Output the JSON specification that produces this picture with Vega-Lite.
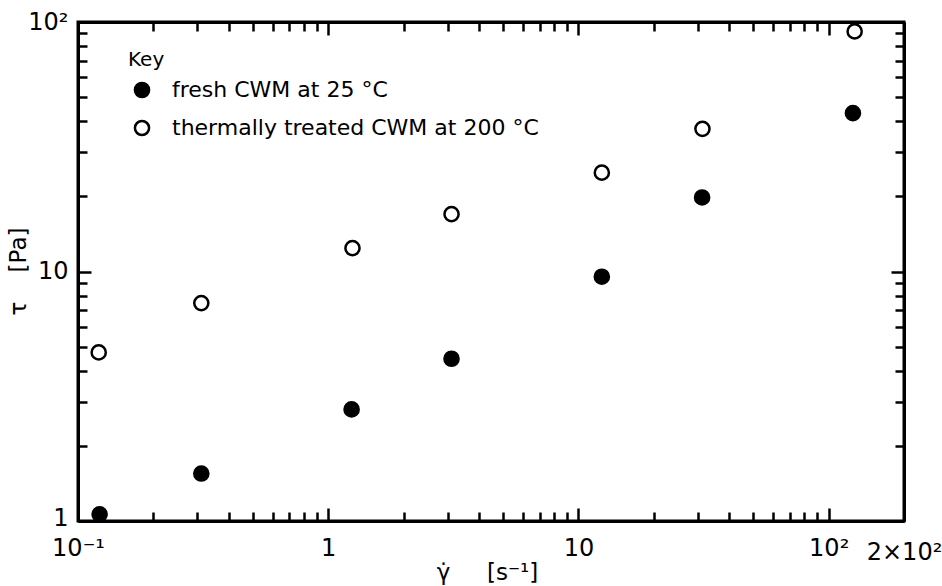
{
  "$schema": "https://vega.github.io/schema/vega-lite/v6.json",
  "width": 826,
  "height": 499,
  "autosize": {"type": "none"},
  "padding": {"left": 78, "top": 22, "right": 38, "bottom": 65},
  "background": "white",
  "config": {
    "font": "DejaVu Sans",
    "view": {"stroke": "black", "strokeWidth": 3},
    "axis": {
      "domainColor": "black", "domainWidth": 3,
      "tickColor": "black", "tickWidth": 2.5,
      "labelColor": "black", "labelFontSize": 24, "labelFont": "DejaVu Sans",
      "titleColor": "black", "titleFontSize": 23, "titleFontWeight": "normal",
      "grid": false, "labelOverlap": false, "labelFlush": false, "labelBound": false
    }
  },
  "data": {
    "values": [
      {"series": "fresh CWM at 25 °C", "rate": 0.122, "tau": 1.064},
      {"series": "fresh CWM at 25 °C", "rate": 0.311, "tau": 1.55},
      {"series": "fresh CWM at 25 °C", "rate": 1.24, "tau": 2.80},
      {"series": "fresh CWM at 25 °C", "rate": 3.11, "tau": 4.47},
      {"series": "fresh CWM at 25 °C", "rate": 12.4, "tau": 9.53},
      {"series": "fresh CWM at 25 °C", "rate": 31.2, "tau": 19.8},
      {"series": "fresh CWM at 25 °C", "rate": 125, "tau": 43.1},
      {"series": "thermally treated CWM at 200 °C", "rate": 0.121, "tau": 4.74},
      {"series": "thermally treated CWM at 200 °C", "rate": 0.311, "tau": 7.47},
      {"series": "thermally treated CWM at 200 °C", "rate": 1.25, "tau": 12.4},
      {"series": "thermally treated CWM at 200 °C", "rate": 3.11, "tau": 16.97},
      {"series": "thermally treated CWM at 200 °C", "rate": 12.4, "tau": 24.9},
      {"series": "thermally treated CWM at 200 °C", "rate": 31.3, "tau": 37.3},
      {"series": "thermally treated CWM at 200 °C", "rate": 127, "tau": 91.7}
    ]
  },
  "layer": [
    {
      "mark": {"type": "point", "stroke": "black", "strokeWidth": 2.5, "size": 200, "opacity": 1},
      "encoding": {
        "x": {
          "field": "rate", "type": "quantitative",
          "scale": {"type": "log", "domain": [0.1, 200], "nice": false},
          "axis": {
            "orient": "bottom",
            "values": [0.1,0.2,0.3,0.4,0.5,0.6,0.7,0.8,0.9,1,2,3,4,5,6,7,8,9,10,20,30,40,50,60,70,80,90,100,200],
            "labelExpr": "datum.value == 0.1 ? '10⁻¹' : datum.value == 1 ? '1' : datum.value == 10 ? '10' : datum.value == 100 ? '10²' : datum.value == 200 ? '2×10²' : ''",
            "tickSize": {"condition": {"test": "indexof([0.1,1,10,100], datum.value) >= 0", "value": -13}, "value": -9},
            "labelPadding": 28,
            "title": "γ̇\u00a0\u00a0\u00a0\u00a0\u00a0[s⁻¹]",
            "titleX": 409, "titleY": 58, "titleBaseline": "alphabetic", "titleAlign": "center"
          }
        },
        "y": {
          "field": "tau", "type": "quantitative",
          "scale": {"type": "log", "domain": [1, 100], "nice": false},
          "axis": {
            "orient": "left",
            "values": [1,2,3,4,5,6,7,8,9,10,20,30,40,50,60,70,80,90,100],
            "labelExpr": "datum.value == 1 ? '1' : datum.value == 10 ? '10' : datum.value == 100 ? '10²' : ''",
            "tickSize": {"condition": {"test": "indexof([1,10,100], datum.value) >= 0", "value": -13}, "value": -9},
            "labelPadding": 23,
            "labelOffset": {"condition": {"test": "datum.value == 1", "value": -3}, "value": 0},
            "title": "τ\u00a0\u00a0\u00a0\u00a0[Pa]",
            "titleX": -60, "titleY": 249, "titleAngle": -90, "titleAlign": "center", "titleBaseline": "middle"
          }
        },
        "fill": {
          "field": "series", "type": "nominal",
          "scale": {"domain": ["fresh CWM at 25 °C", "thermally treated CWM at 200 °C"], "range": ["black", "white"]},
          "legend": {
            "title": "Key", "orient": "none", "legendX": 50, "legendY": 28,
            "titleFontSize": 20, "titleFontWeight": "normal", "titleColor": "black", "titleFont": "DejaVu Sans",
            "labelFontSize": 22, "labelColor": "black", "labelFont": "DejaVu Sans",
            "symbolStrokeColor": "black", "symbolStrokeWidth": 2.5, "symbolSize": 200, "symbolType": "circle",
            "symbolOpacity": 1, "symbolOffset": 3,
            "labelOffset": 19, "rowPadding": 12, "titlePadding": 9, "padding": 0, "labelLimit": 0
          }
        }
      }
    },
    {
      "mark": {"type": "point", "opacity": 0},
      "encoding": {
        "x": {
          "field": "rate", "type": "quantitative",
          "scale": {"type": "log", "domain": [0.1, 200], "nice": false},
          "axis": {
            "orient": "top",
            "values": [0.1,0.2,0.3,0.4,0.5,0.6,0.7,0.8,0.9,1,2,3,4,5,6,7,8,9,10,20,30,40,50,60,70,80,90,100,200],
            "labels": false, "title": null,
            "tickSize": {"condition": {"test": "indexof([0.1,1,10,100], datum.value) >= 0", "value": -13}, "value": -9}
          }
        },
        "y": {
          "field": "tau", "type": "quantitative",
          "scale": {"type": "log", "domain": [1, 100], "nice": false},
          "axis": {
            "orient": "right",
            "values": [1,2,3,4,5,6,7,8,9,10,20,30,40,50,60,70,80,90,100],
            "labels": false, "title": null,
            "tickSize": {"condition": {"test": "indexof([1,10,100], datum.value) >= 0", "value": -13}, "value": -9}
          }
        }
      }
    }
  ],
  "resolve": {"axis": {"x": "independent", "y": "independent"}}
}
